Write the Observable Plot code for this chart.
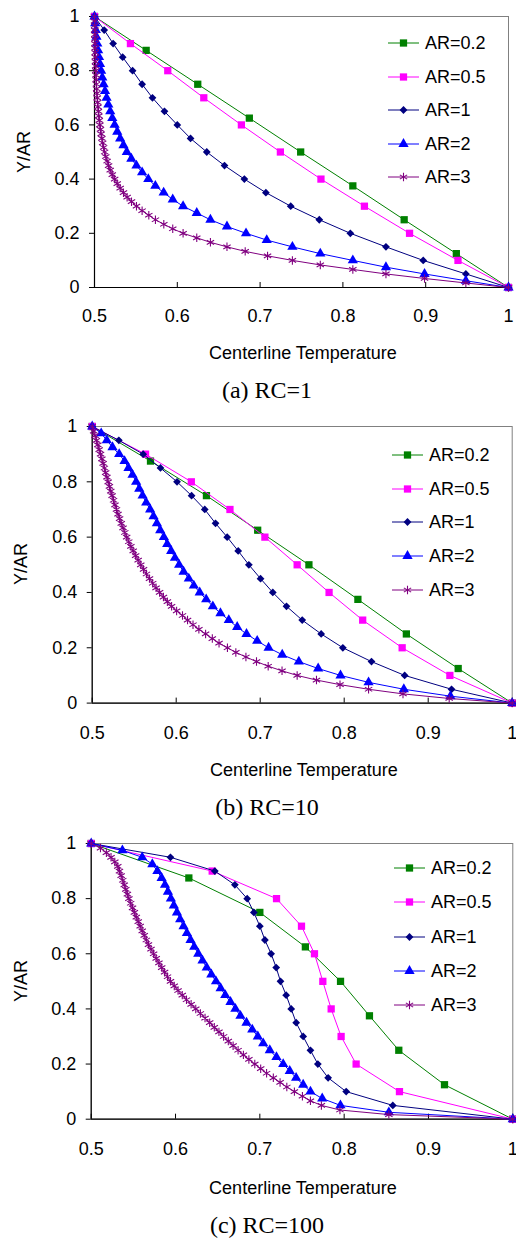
<!DOCTYPE html>
<html>
<head>
<meta charset="utf-8">
<script src="https://cdn.jsdelivr.net/npm/d3@7"></script>
<script src="https://cdn.jsdelivr.net/npm/@observablehq/plot@0.6"></script>
<style>
  body { margin: 0; background: #fff; }
  #root { position: relative; width: 516px; height: 1238px; overflow: hidden; background: #fff;
          font-family: "Liberation Sans", Arial, sans-serif; color: #000; }
  .abs { position: absolute; }
  .xlab { font-size: 18px; line-height: 1; white-space: nowrap; transform: translate(-50%, -50%); }
  .ylab { font-size: 18px; line-height: 1; white-space: nowrap; transform: translate(-50%, -50%) rotate(-90deg); }
  .cap { font-family: "Liberation Serif", "Times New Roman", serif; font-size: 24px; line-height: 1; white-space: nowrap; transform: translate(-50%, -50%); }
  .leg { font-size: 18px; line-height: 1; }
  .legrow { display: flex; align-items: center; white-space: nowrap; }
  .legrow svg { display: block; margin-right: 6px; overflow: visible; }
  svg text { font-family: "Liberation Sans", Arial, sans-serif; }
</style>
</head>
<body>
<div id="root"></div>
<script>
// ---------- tick values ----------
const xTicks = [0.5, 0.6, 0.7, 0.8, 0.9, 1];
const yTicks = [0, 0.2, 0.4, 0.6, 0.8, 1];

// ---------- series ----------
const seriesNames = ["AR=0.2", "AR=0.5", "AR=1", "AR=2", "AR=3"];
const seriesColors = ["#008000", "#ff00ff", "#000080", "#0000ff", "#800080"];
const seriesSymbols = ["square", "square", "diamond2", "triangle", "asterisk"];

// Y/AR grid values (shared by all panels)
const yAR02 = [0, 0.125, 0.25, 0.375, 0.5, 0.625, 0.75, 0.875, 1];
const yAR05 = [0, 0.1, 0.2, 0.3, 0.4, 0.5, 0.6, 0.7, 0.8, 0.9, 1];
const yAR1 = [0, 0.05, 0.1, 0.15, 0.2, 0.25, 0.3, 0.35, 0.4, 0.45, 0.5, 0.55, 0.6, 0.65, 0.7, 0.75, 0.8, 0.85, 0.9, 0.95, 1];
const yAR2 = [0, 0.025, 0.05, 0.075, 0.1, 0.125, 0.15, 0.175, 0.2, 0.225, 0.25, 0.275, 0.3, 0.325, 0.35, 0.375, 0.4, 0.425, 0.45, 0.475, 0.5,
  0.525, 0.55, 0.575, 0.6, 0.625, 0.65, 0.675, 0.7, 0.725, 0.75, 0.775, 0.8, 0.825, 0.85, 0.875, 0.9, 0.925, 0.95, 0.975, 1];
const yAR3 = [0, 0.0167, 0.0333, 0.05, 0.0667, 0.0833, 0.1, 0.1167, 0.1333, 0.15, 0.1667, 0.1833, 0.2, 0.2167, 0.2333, 0.25, 0.2667, 0.2833,
  0.3, 0.3167, 0.3333, 0.35, 0.3667, 0.3833, 0.4, 0.4167, 0.4333, 0.45, 0.4667, 0.4833, 0.5, 0.5167, 0.5333, 0.55, 0.5667, 0.5833,
  0.6, 0.6167, 0.6333, 0.65, 0.6667, 0.6833, 0.7, 0.7167, 0.7333, 0.75, 0.7667, 0.7833, 0.8, 0.8167, 0.8333, 0.85, 0.8667, 0.8833,
  0.9, 0.9167, 0.9333, 0.95, 0.9667, 0.9833, 1];

// Centerline temperature, panel (a) RC=1
const tA_AR02 = [1, 0.937, 0.874, 0.812, 0.749, 0.687, 0.6247, 0.5624, 0.5];
const tA_AR05 = [1, 0.939, 0.8805, 0.826, 0.7735, 0.7245, 0.6774, 0.632, 0.5885, 0.5434, 0.5];
const tA_AR1 = [1, 0.9485, 0.897, 0.852, 0.809, 0.7715, 0.737, 0.707, 0.681, 0.657, 0.6356, 0.616, 0.6, 0.5845, 0.57, 0.5575, 0.546, 0.534, 0.5225, 0.5117, 0.5];
const tA_AR2 = [1, 0.9485, 0.8986, 0.852, 0.812, 0.7727, 0.739, 0.708, 0.683, 0.66, 0.64, 0.6235, 0.607, 0.5945, 0.5835, 0.5735, 0.565, 0.5575, 0.5507, 0.5445, 0.539,
  0.535, 0.531, 0.5275, 0.5243, 0.5215, 0.519, 0.5167, 0.5146, 0.5127, 0.511, 0.5094, 0.508, 0.5067, 0.5055, 0.5044, 0.5034, 0.5024, 0.5016, 0.5008, 0.5];
const tA_AR3 = [1, 0.9485, 0.8986, 0.852, 0.812, 0.7727, 0.739, 0.709, 0.682, 0.66, 0.64, 0.6235, 0.607, 0.5945, 0.5837, 0.5736, 0.5656, 0.5575, 0.5507, 0.5447, 0.5394,
  0.535, 0.531, 0.5275, 0.5243, 0.5215, 0.519, 0.517, 0.5152, 0.5136, 0.5122, 0.511, 0.5099, 0.5089, 0.508, 0.5072, 0.5065, 0.5058, 0.5052, 0.5047, 0.5042,
  0.5037, 0.5033, 0.5029, 0.5026, 0.5023, 0.502, 0.5018, 0.5016, 0.5014, 0.5012, 0.501, 0.5009, 0.5007, 0.5006, 0.5005, 0.5004, 0.5003, 0.5002, 0.5001, 0.5];

// panel (b) RC=10
const tB_AR02 = [1, 0.9357, 0.874, 0.8163, 0.758, 0.697, 0.636, 0.5694, 0.5];
const tB_AR05 = [1, 0.9258, 0.869, 0.822, 0.782, 0.744, 0.7056, 0.664, 0.618, 0.5635, 0.5];
const tB_AR1 = [1, 0.9278, 0.872, 0.8325, 0.7984, 0.7726, 0.75, 0.7313, 0.715, 0.7004, 0.6865, 0.6738, 0.6607, 0.6468, 0.634, 0.6183, 0.601, 0.5813, 0.5607, 0.5317, 0.5];
const tB_AR2 = [1, 0.9265, 0.871, 0.829, 0.7956, 0.769, 0.746, 0.7262, 0.71, 0.6964, 0.6837, 0.6726, 0.6626, 0.6527, 0.6436, 0.6357, 0.628, 0.621, 0.615, 0.6088, 0.6035,
  0.5985, 0.594, 0.5893, 0.5853, 0.581, 0.577, 0.573, 0.569, 0.5643, 0.56, 0.556, 0.5523, 0.548, 0.5432, 0.5385, 0.5321, 0.5242, 0.5174, 0.5107, 0.5];
const tB_AR3 = [1, 0.925, 0.87, 0.829, 0.795, 0.767, 0.744, 0.726, 0.7095, 0.6956, 0.683, 0.671, 0.661, 0.651, 0.643, 0.635, 0.627, 0.62, 0.6135, 0.6075, 0.6005,
  0.5945, 0.5895, 0.5848, 0.5802, 0.576, 0.572, 0.5682, 0.5646, 0.5611, 0.5578, 0.5547, 0.5517, 0.5488, 0.546, 0.5435, 0.541, 0.5388, 0.5367, 0.5346, 0.5326,
  0.5307, 0.5289, 0.5271, 0.5254, 0.5237, 0.5221, 0.5205, 0.519, 0.5175, 0.516, 0.5145, 0.513, 0.5115, 0.5099, 0.5083, 0.5067, 0.505, 0.5034, 0.5017, 0.5];

// panel (c) RC=100
const tC_AR02 = [1, 0.919, 0.8648, 0.83, 0.7957, 0.754, 0.7, 0.6158, 0.5];
const tC_AR05 = [1, 0.8656, 0.8142, 0.7964, 0.7846, 0.7747, 0.7648, 0.7494, 0.7198, 0.6435, 0.5];
const tC_AR1 = [1, 0.8577, 0.8024, 0.781, 0.7688, 0.76, 0.7514, 0.7431, 0.7372, 0.7312, 0.7245, 0.7194, 0.7134, 0.706, 0.7, 0.6929, 0.685, 0.6704, 0.6466, 0.594, 0.5];
const tC_AR2 = [1, 0.853, 0.7956, 0.774, 0.76, 0.7514, 0.743, 0.7355, 0.7277, 0.7197, 0.7118, 0.704, 0.6976, 0.691, 0.6842, 0.677, 0.671, 0.6652, 0.659, 0.6535, 0.648,
  0.6425, 0.637, 0.632, 0.627, 0.6222, 0.6178, 0.6135, 0.6095, 0.6055, 0.6017, 0.598, 0.5945, 0.591, 0.5875, 0.5835, 0.5785, 0.5725, 0.5605, 0.537, 0.5];
const tC_AR3 = [1, 0.853, 0.795, 0.773, 0.76, 0.7505, 0.741, 0.732, 0.724, 0.716, 0.708, 0.701, 0.694, 0.687, 0.6805, 0.6742, 0.6683, 0.6626, 0.657, 0.6515, 0.646,
  0.6405, 0.635, 0.6295, 0.624, 0.6185, 0.613, 0.608, 0.603, 0.5985, 0.594, 0.5905, 0.587, 0.5836, 0.5803, 0.5771, 0.574, 0.5709, 0.5679, 0.5654, 0.5629,
  0.5605, 0.5581, 0.5558, 0.5535, 0.5512, 0.549, 0.5468, 0.5447, 0.5429, 0.541, 0.5392, 0.5374, 0.5355, 0.5335, 0.5315, 0.528, 0.5235, 0.518, 0.511, 0.5];

const yGrids = [yAR02, yAR05, yAR1, yAR2, yAR3];
const xLabel = "Centerline Temperature";
const yLabel = "Y/AR";

// ---------- layout (styles only) ----------
const symbolR = { square: 4.1, diamond2: 3.5, triangle: 3.8, asterisk: 4 };
const panels = [
  { caption: "(a) RC=1", temps: [tA_AR02, tA_AR05, tA_AR1, tA_AR2, tA_AR3],
    top: 0, mT: 16, plotH: 271, mL: 94, mR: 8, tickPad: 27,
    xLabX: 303, xLabY: 353, yLabX: 24, capX: 267, capY: 390, legY: 43, legX: 388, legGap: 33.5 },
  { caption: "(b) RC=10", temps: [tB_AR02, tB_AR05, tB_AR1, tB_AR2, tB_AR3],
    top: 409.7, mT: 16, plotH: 276.6, mL: 91.7, mR: 4.3, tickPad: 27.7,
    xLabX: 304, xLabY: 770, yLabX: 21, capX: 267, capY: 807, legY: 455, legX: 392, legGap: 33.7 },
  { caption: "(c) RC=100", temps: [tC_AR02, tC_AR05, tC_AR1, tC_AR2, tC_AR3],
    top: 827.3, mT: 16, plotH: 275.7, mL: 90.7, mR: 3.7, tickPad: 28,
    xLabX: 303, xLabY: 1188, yLabX: 21, capX: 267, capY: 1225, legY: 868.3, legX: 394, legGap: 34.2 }
];

const root = document.getElementById("root");
const mB = 45;
const tickFont = 18;

function addDiv(cls, text, left, top) {
  const d = document.createElement("div");
  d.className = "abs " + cls;
  d.textContent = text;
  d.style.left = left + "px";
  d.style.top = top + "px";
  root.appendChild(d);
  return d;
}

const d3sym = { square: d3.symbolSquare, diamond2: d3.symbolDiamond2, triangle: d3.symbolTriangle, asterisk: d3.symbolAsterisk };

panels.forEach(p => {
  const marks = [
    Plot.frame({ stroke: "#808080", strokeWidth: 1 }),
    Plot.ruleX([xTicks[0]], { stroke: "#000", strokeWidth: 1.2 }),
    Plot.ruleY([yTicks[0]], { stroke: "#000", strokeWidth: 1.2 }),
    Plot.axisX(xTicks, { tickSize: -5, tickPadding: p.tickPad, tickFormat: d => String(d), label: null,
      stroke: "#000", fill: "#000", fontSize: tickFont, textAnchor: "middle" }),
    Plot.axisY(yTicks, { tickSize: 5, tickPadding: 10, tickFormat: d => String(d), label: null,
      stroke: "#000", fill: "#000", fontSize: tickFont })
  ];
  seriesNames.forEach((name, i) => {
    const xs = p.temps[i], ys = yGrids[i];
    const rows = xs.map((t, j) => ({ t, y: ys[j] }));
    const sym = seriesSymbols[i];
    marks.push(Plot.line(rows, { x: "t", y: "y", stroke: seriesColors[i], strokeWidth: 1 }));
    if (sym === "asterisk") {
      marks.push(Plot.dot(rows, { x: "t", y: "y", symbol: sym, r: symbolR[sym], stroke: seriesColors[i], strokeWidth: 1.1, fill: "none" }));
    } else {
      marks.push(Plot.dot(rows, { x: "t", y: "y", symbol: sym, r: symbolR[sym], fill: seriesColors[i], stroke: "none" }));
    }
  });

  const svg = Plot.plot({
    width: 516,
    height: p.mT + p.plotH + mB,
    marginTop: p.mT, marginBottom: mB, marginLeft: p.mL, marginRight: p.mR,
    x: { type: "linear", domain: [xTicks[0], xTicks[xTicks.length - 1]] },
    y: { type: "linear", domain: [yTicks[0], yTicks[yTicks.length - 1]] },
    style: { fontSize: "18px", fontFamily: "Liberation Sans, Arial, sans-serif", color: "#000", background: "transparent", overflow: "visible" },
    marks
  });
  const wrap = document.createElement("div");
  wrap.className = "abs";
  wrap.style.left = "0px";
  wrap.style.top = p.top + "px";
  wrap.appendChild(svg);
  root.appendChild(wrap);

  addDiv("xlab", xLabel, p.xLabX, p.xLabY);
  addDiv("ylab", yLabel, p.yLabX, p.top + p.mT + p.plotH / 2);
  addDiv("cap", p.caption, p.capX, p.capY);

  // legend overlay
  const leg = document.createElement("div");
  leg.className = "abs leg";
  leg.style.left = p.legX + "px";
  leg.style.top = (p.legY - p.legGap / 2) + "px";
  seriesNames.forEach((name, i) => {
    const row = document.createElement("div");
    row.className = "legrow";
    row.style.height = p.legGap + "px";
    const sym = seriesSymbols[i];
    const r = symbolR[sym];
    const path = d3.symbol(d3sym[sym], Math.PI * r * r)();
    const fill = sym === "asterisk" ? "none" : seriesColors[i];
    const stroke = sym === "asterisk" ? seriesColors[i] : "none";
    row.innerHTML = `<svg width="31" height="14" viewBox="0 0 31 14">
      <line x1="0" y1="7" x2="31" y2="7" stroke="${seriesColors[i]}" stroke-width="1"/>
      <path d="${path}" transform="translate(15.5,7)" fill="${fill}" stroke="${stroke}" stroke-width="1.1"/>
    </svg><span>${name}</span>`;
    leg.appendChild(row);
  });
  root.appendChild(leg);
});
</script>
</body>
</html>
